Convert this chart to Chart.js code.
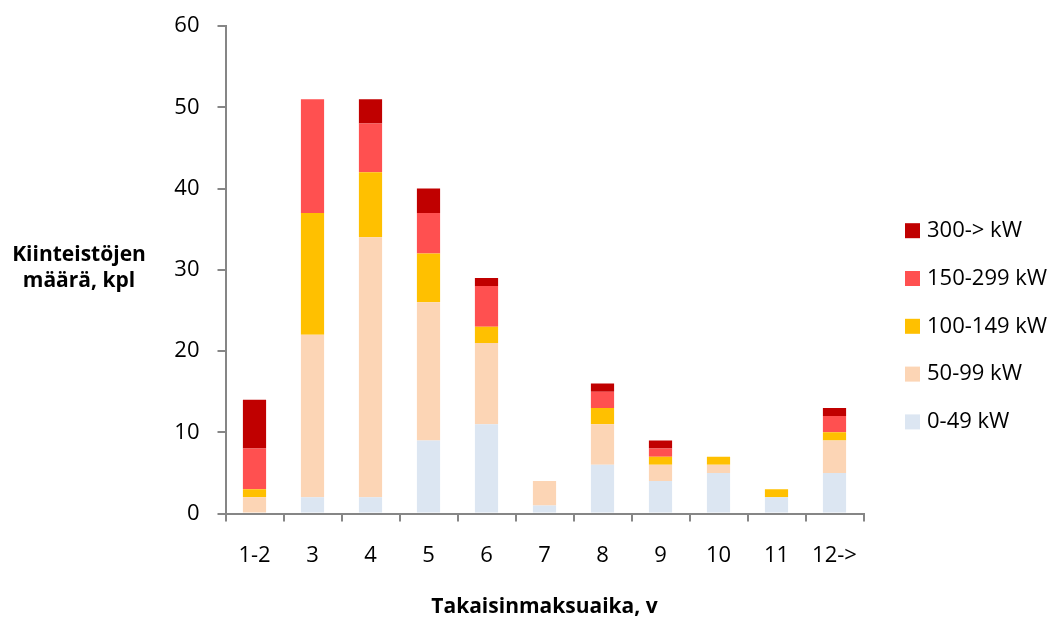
<!DOCTYPE html>
<html>
<head>
<meta charset="utf-8">
<script src="https://cdn.jsdelivr.net/npm/chart.js@4/dist/chart.umd.min.js"></script>
<style>
  html, body { margin: 0; padding: 0; background: #ffffff; }
  #wrap { position: relative; width: 1058px; height: 619px; }
</style>
</head>
<body>
<div id="wrap"><canvas id="c"></canvas></div>
<script>
// Payback period classes (years)
const categories = ['1-2', '3', '4', '5', '6', '7', '8', '9', '10', '11', '12->'];

// Number of properties per heating power class
const kw0_49    = [0, 2, 2, 9, 11, 1, 6, 4, 5, 2, 5];
const kw50_99   = [2, 20, 32, 17, 10, 3, 5, 2, 1, 0, 4];
const kw100_149 = [1, 15, 8, 6, 2, 0, 2, 1, 1, 1, 1];
const kw150_299 = [5, 14, 6, 5, 5, 0, 2, 1, 0, 0, 2];
const kw300     = [6, 0, 3, 3, 1, 0, 1, 1, 0, 0, 1];

const seriesLabels = ['0-49 kW', '50-99 kW', '100-149 kW', '150-299 kW', '300-> kW'];
const yTicks = [0, 10, 20, 30, 40, 50, 60];

const FONT = '"Open Sans", Lato, sans-serif';
const AXIS_GREY = '#868686';

// Axis titles and the right-hand legend
const annotations = {
  id: 'annotations',
  afterDraw(chart) {
    const ctx = chart.ctx;
    ctx.save();
    ctx.fillStyle = '#000000';
    ctx.textBaseline = 'middle';

    ctx.font = 'bold 21px ' + FONT;
    ctx.textAlign = 'center';
    ctx.fillText('Kiinteistöjen', 79, 255);
    ctx.fillText('määrä, kpl', 79, 281);
    const ca = chart.chartArea;
    ctx.fillText('Takaisinmaksuaika, v', (ca.left + ca.right) / 2, 607);

    // legend, top item is the last series
    ctx.font = '22px ' + FONT;
    ctx.textAlign = 'left';
    const ds = chart.data.datasets;
    for (let i = 0; i < ds.length; i++) {
      const d = ds[ds.length - 1 - i];
      const cy = 230.7 + i * 47.8;
      ctx.fillStyle = d.backgroundColor;
      ctx.fillRect(905, cy - 7.5, 15, 15);
      ctx.fillStyle = '#000000';
      ctx.fillText(d.label, 927, cy);
    }
    ctx.restore();
  }
};

const colors = ['#DCE6F2', '#FCD5B5', '#FFC000', '#FF5050', '#C00000'];
const values = [kw0_49, kw50_99, kw100_149, kw150_299, kw300];

new Chart(document.getElementById('c'), {
  type: 'bar',
  data: {
    labels: categories,
    datasets: values.map((v, i) => ({
      label: seriesLabels[i],
      data: v,
      backgroundColor: colors[i],
      borderWidth: 0,
      categoryPercentage: 0.4,
      barPercentage: 1.0
    }))
  },
  options: {
    responsive: true,
    maintainAspectRatio: false,
    animation: false,
    layout: { padding: { top: 26, right: 194.5, bottom: 0, left: 0 } },
    plugins: {
      legend: { display: false },
      tooltip: { enabled: false }
    },
    scales: {
      x: {
        stacked: true,
        afterFit(scale) { scale.height = 105.5; },
        grid: {
          display: true,
          drawOnChartArea: false,
          drawTicks: true,
          tickLength: 8,
          color: AXIS_GREY,
          lineWidth: 2,
          offset: true
        },
        border: { display: true, color: AXIS_GREY, width: 2 },
        ticks: {
          color: '#000000',
          font: { family: FONT, size: 22 },
          padding: 21,
          maxRotation: 0,
          autoSkip: false
        }
      },
      y: {
        stacked: true,
        min: yTicks[0],
        max: yTicks[yTicks.length - 1],
        afterFit(scale) {
          scale.width = 225.5;
          scale.paddingTop = 0;
          scale.paddingBottom = 0;
        },
        afterBuildTicks(scale) { scale.ticks = yTicks.map(v => ({ value: v })); },
        grid: {
          display: true,
          drawOnChartArea: false,
          drawTicks: true,
          tickLength: 8,
          color: AXIS_GREY,
          lineWidth: 2
        },
        border: { display: true, color: AXIS_GREY, width: 2 },
        ticks: {
          color: '#000000',
          font: { family: FONT, size: 22 },
          padding: 18
        }
      }
    }
  },
  plugins: [annotations]
});
</script>
</body>
</html>
